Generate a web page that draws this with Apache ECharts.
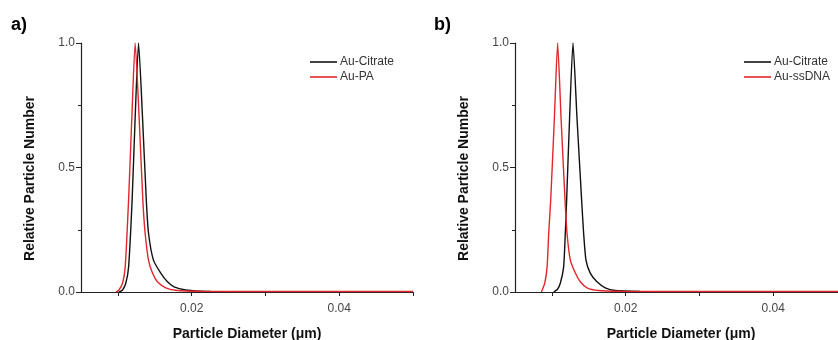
<!DOCTYPE html>
<html>
<head>
<meta charset="utf-8">
<script src="https://cdn.jsdelivr.net/npm/echarts@6/dist/echarts.min.js"></script>
<style>html,body{margin:0;padding:0;background:#fff;}#c{width:838px;height:340px;}</style>
</head>
<body>
<div id="c"></div>
<script>
// ---- data (x in µm, y relative particle number) ----
const panelLabels = ['a)', 'b)'];
const xAxisTitle = 'Particle Diameter (\u03bcm)';
const yAxisTitle = 'Relative Particle Number';
const xTickValues = [0.01, 0.02, 0.03, 0.04, 0.05];
const xLabelValues = [0.02, 0.04];
const yLabelValues = [0, 0.5, 1.0];

const seriesNamesA = ['Au-Citrate', 'Au-PA'];
const seriesNamesB = ['Au-Citrate', 'Au-ssDNA'];

const citrateA_x = [0.01014, 0.01064, 0.01108, 0.01145, 0.01193, 0.01234, 0.0128, 0.01334, 0.01385, 0.01415, 0.01482, 0.01581, 0.01672, 0.01761, 0.01919, 0.02122, 0.02257];
const citrateA_y = [0.0, 0.008, 0.036, 0.10, 0.37, 0.70, 1.0, 0.70, 0.37, 0.237, 0.128, 0.076, 0.041, 0.021, 0.008, 0.003, 0.002];

const paA_x = [0.00973, 0.01014, 0.01064, 0.01099, 0.01145, 0.01189, 0.01234, 0.01288, 0.01338, 0.01369, 0.01415, 0.01469, 0.01536, 0.01649, 0.01807, 0.0212, 0.03, 0.04, 0.05];
const paA_y = [0.0, 0.008, 0.036, 0.10, 0.37, 0.70, 1.0, 0.70, 0.37, 0.237, 0.128, 0.076, 0.041, 0.017, 0.006, 0.003, 0.002, 0.002, 0.002];

const citrateB_x = [0.01024, 0.01074, 0.01115, 0.01159, 0.01182, 0.012, 0.0124, 0.01286, 0.0134, 0.01403, 0.0143, 0.01462, 0.0152, 0.01611, 0.01723, 0.01858, 0.02196];
const citrateB_y = [0.0, 0.01, 0.036, 0.10, 0.237, 0.37, 0.70, 1.0, 0.70, 0.37, 0.237, 0.128, 0.076, 0.041, 0.017, 0.006, 0.002];

const ssdnaB_x = [0.00858, 0.00903, 0.00935, 0.00957, 0.00984, 0.01034, 0.01078, 0.01124, 0.01178, 0.01205, 0.0125, 0.01318, 0.01385, 0.01476, 0.01632, 0.01926, 0.03, 0.04, 0.05];
const ssdnaB_y = [0.0, 0.036, 0.10, 0.237, 0.37, 0.70, 1.0, 0.70, 0.37, 0.237, 0.128, 0.076, 0.041, 0.017, 0.006, 0.003, 0.002, 0.002, 0.002];

// ---- chart ----
const pair = (xs, ys) => xs.map((x, i) => [x, ys[i]]);
const FONT = 'Liberation Sans, Arial, sans-serif';
const BLACK = '#111111';
const RED = '#e3262b';

function xAxisDef(gridIndex) {
  return {
    type: 'value', gridIndex, min: 0.005, max: 0.05,
    axisLine: { show: true, onZero: false, lineStyle: { color: '#222', width: 1.2 } },
    axisTick: { show: true, inside: false, length: 4, customValues: xTickValues, lineStyle: { color: '#222' } },
    axisLabel: { show: true, customValues: xLabelValues, margin: 11, color: '#444', fontSize: 12, fontFamily: FONT,
      formatter: v => v.toFixed(2) },
    splitLine: { show: false },
    name: xAxisTitle, nameLocation: 'middle', nameGap: 35,
    nameTextStyle: { fontWeight: 'bold', fontSize: 14, color: '#111', fontFamily: FONT }
  };
}
function yAxisDef(gridIndex) {
  return {
    type: 'value', gridIndex, min: 0, max: 1, interval: 0.5,
    axisLine: { show: true, onZero: false, lineStyle: { color: '#222', width: 1.2 } },
    axisTick: { show: true, inside: false, length: 5, lineStyle: { color: '#222' } },
    minorTick: { show: true, splitNumber: 2, length: 3, lineStyle: { color: '#222' } },
    axisLabel: { show: true, margin: 6, color: '#444', fontSize: 12, fontFamily: FONT,
      formatter: v => v.toFixed(1) },
    splitLine: { show: false },
    name: yAxisTitle, nameLocation: 'middle', nameGap: 44,
    nameTextStyle: { fontWeight: 'bold', fontSize: 14, color: '#111', fontFamily: FONT, padding: [0, 22, 0, 0] }
  };
}
function lineSeries(name, data, color, axisIdx) {
  return {
    type: 'line', name, data, xAxisIndex: axisIdx, yAxisIndex: axisIdx,
    symbol: 'none', smooth: 0.2, clip: true,
    lineStyle: { color, width: 1.4 }, itemStyle: { color }
  };
}
function legendDef(names, left) {
  return {
    data: names.map(n => ({ name: n, icon: 'rect' })), left, top: 56, orient: 'vertical',
    padding: 0, itemWidth: 27, itemHeight: 1.6, itemGap: 3,
    selectedMode: false,
    textStyle: { fontSize: 12, color: '#333', fontFamily: FONT, padding: [0, 0, 0, -2] }
  };
}

const chart = echarts.init(document.getElementById('c'), null, { renderer: 'canvas' });
chart.setOption({
  animation: false,
  backgroundColor: '#fff',
  grid: [
    { left: 81, top: 43, width: 332, height: 249, containLabel: false, outerBoundsMode: 'none' },
    { left: 515, top: 43, width: 332, height: 249, containLabel: false, outerBoundsMode: 'none' }
  ],
  xAxis: [xAxisDef(0), xAxisDef(1)],
  yAxis: [yAxisDef(0), yAxisDef(1)],
  legend: [legendDef(seriesNamesA, 310), legendDef(seriesNamesB, 744)],
  graphic: [
    { type: 'text', left: 11, top: 16, style: { text: panelLabels[0], font: 'bold 18px ' + FONT, fill: '#000' } },
    { type: 'text', left: 434, top: 16, style: { text: panelLabels[1], font: 'bold 18px ' + FONT, fill: '#000' } }
  ],
  series: [
    lineSeries(seriesNamesA[0], pair(citrateA_x, citrateA_y), BLACK, 0),
    lineSeries(seriesNamesA[1], pair(paA_x, paA_y), RED, 0),
    lineSeries(seriesNamesB[0], pair(citrateB_x, citrateB_y), BLACK, 1),
    lineSeries(seriesNamesB[1], pair(ssdnaB_x, ssdnaB_y), RED, 1)
  ]
});
</script>
</body>
</html>
